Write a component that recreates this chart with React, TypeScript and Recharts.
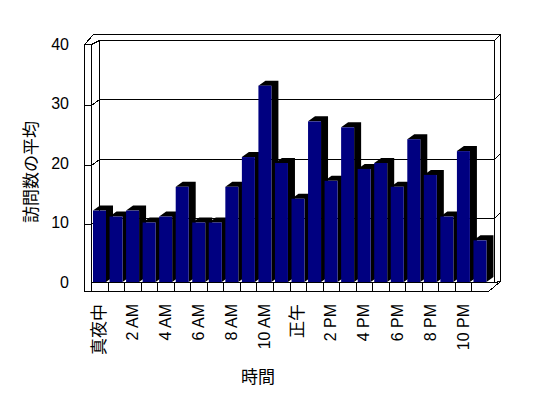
import React from 'react';
import { BarChart, Bar, XAxis, YAxis } from 'recharts';

// hour labels (only every other one is shown on the axis)
const hours = [
  '真夜中', '1 AM', '2 AM', '3 AM', '4 AM', '5 AM', '6 AM', '7 AM', '8 AM', '9 AM', '10 AM', '11 AM',
  '正午', '1 PM', '2 PM', '3 PM', '4 PM', '5 PM', '6 PM', '7 PM', '8 PM', '9 PM', '10 PM', '11 PM',
];
const avgVisits = [12, 11, 12, 10, 11, 16, 10, 10, 16, 21, 33, 20, 14, 27, 17, 26, 19, 20, 16, 24, 18, 11, 22, 7];
const yTicks = [0, 10, 20, 30, 40];

const data = hours.map((h, i) => ({ hour: h, visits: avgVisits[i] }));

const W = 548;
const H = 398;
// plot area
const PL = 91;
const PR = 488;
const PT = 44;
const PB = 282;
const Y_MAX = 40;
const FONT = '"Liberation Sans", "Noto Sans CJK JP", sans-serif';

const yAt = (v: number) => PB - ((PB - PT) * v) / Y_MAX;

const Bar3D = (props: any) => {
  const { x, y, width, height } = props;
  if (!height || height <= 0) return null;
  const dx = 7;
  const dy = 5;
  const side = [
    [x, y],
    [x + dx, y - dy],
    [x + width + dx, y - dy],
    [x + width + dx, y + height - dy],
    [x + width, y + height],
    [x + width, y],
  ]
    .map((p) => p.join(','))
    .join(' ');
  return (
    <g>
      <polygon points={side} fill="#000" />
      <rect x={x} y={y} width={width} height={height} fill="#000080" />
    </g>
  );
};

const HourTick = (props: any) => {
  const { x, y, payload } = props;
  const cjk = /[^\x00-\x7f]/.test(payload.value);
  const ty = y + 20;
  return (
    <text
      x={x}
      y={ty}
      transform={`rotate(-90 ${x} ${ty})`}
      textAnchor="end"
      dominantBaseline="central"
      fontSize={cjk ? 17 : 16}
      fontFamily={FONT}
      fill="#000"
    >
      {payload.value}
    </text>
  );
};

const ValueTick = (props: any) => {
  const { x, y, payload } = props;
  return (
    <text x={x - 20} y={y} textAnchor="end" dominantBaseline="central" fontSize={16} fontFamily={FONT} fill="#000">
      {payload.value}
    </text>
  );
};

// 3d box behind the bars: walls, floor and gridlines
const Frame = () => {
  const band = (PR - PL) / hours.length;
  const grid = yTicks.filter((t) => t > 0 && t < Y_MAX);
  return (
    <svg width={W} height={H} style={{ position: 'absolute', left: 0, top: 0 }}>
      <g stroke="#000" strokeWidth={1} fill="none" shapeRendering="crispEdges">
        <path d="M84.5,291.5 V44.5 L93.5,34.5 H500.5 V281.5 L488.5,291.5 Z" fill="#fff" />
        <path d="M91.5,291.5 V44.5 H84.5" />
        <path d="M91.5,44.5 L99.5,40.5 H494.5 V282.5" />
        <path d="M99.5,40.5 V282.5" />
        <path d="M494.5,40.5 L500.5,34.5" />
        <path d={`M91.5,${PB + 0.5} H494.5 L500.5,${PB - 0.5}`} />
        <path d={`M84.5,291.5 H488.5`} />
        {grid.map((t) => {
          const yb = Math.round(yAt(t) - 4.5) + 0.5;
          return <path key={t} d={`M84.5,${yb + 6} H91.5 L99.5,${yb} H494.5 L500.5,${yb - 6}`} />;
        })}
        {hours.map((_, i) => {
          if (i === 0) return null;
          const xx = Math.round(PL + i * band) + 0.5;
          return <path key={i} d={`M${xx},${PB} V291.5`} />;
        })}
      </g>
      <text x={258} y={377} textAnchor="middle" dominantBaseline="central" fontSize={17} fontFamily={FONT} fill="#000">
        時間
      </text>
      <text
        x={31}
        y={172}
        transform="rotate(-90 31 172)"
        textAnchor="middle"
        dominantBaseline="central"
        fontSize={17}
        fontFamily={FONT}
        fill="#000"
      >
        訪問数の平均
      </text>
    </svg>
  );
};

export default function App() {
  return (
    <div style={{ position: 'absolute', left: 0, top: 0, width: W, height: H, background: '#fff' }}>
      <Frame />
      <div style={{ position: 'absolute', left: 0, top: 0 }}>
        <BarChart
          width={W}
          height={H}
          data={data}
          margin={{ top: PT, right: W - PR, bottom: H - PB - 30, left: PL - 60 }}
          barSize={13}
        >
          <XAxis
            dataKey="hour"
            height={30}
            interval={1}
            axisLine={false}
            tickLine={false}
            tickSize={0}
            tick={<HourTick />}
          />
          <YAxis
            width={60}
            domain={[0, Y_MAX]}
            ticks={yTicks}
            axisLine={false}
            tickLine={false}
            tickSize={0}
            tick={<ValueTick />}
          />
          <Bar dataKey="visits" shape={<Bar3D />} isAnimationActive={false} />
        </BarChart>
      </div>
    </div>
  );
}
